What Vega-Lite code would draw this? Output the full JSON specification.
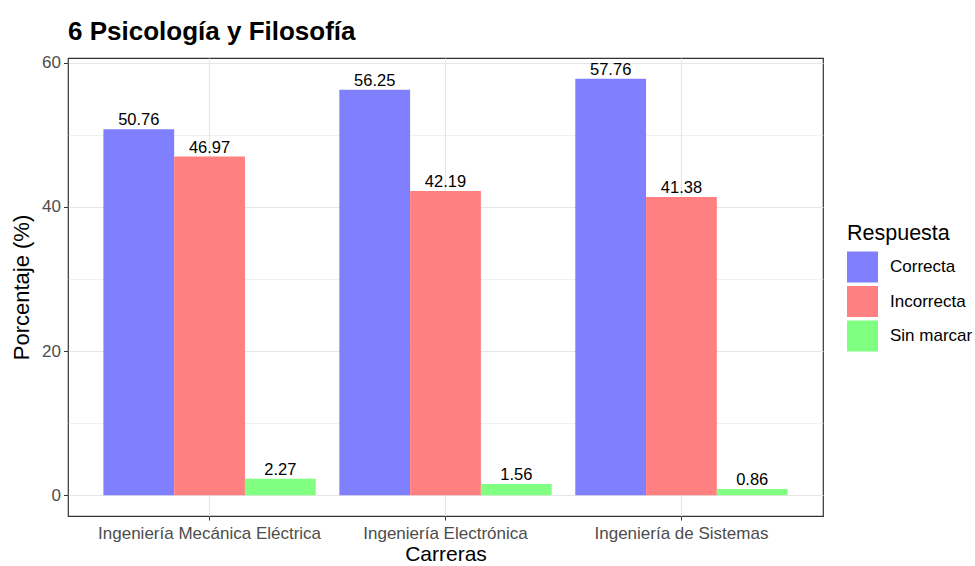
{
  "$schema": "https://vega.github.io/schema/vega-lite/v6.json",
  "width": 755,
  "height": 458,
  "autosize": {"type": "none"},
  "padding": {"left": 68, "top": 58, "right": 152, "bottom": 50},
  "config": {
    "font": "Liberation Sans",
    "view": {"stroke": "#333333", "strokeWidth": 1.2},
    "background": "white"
  },
  "title": {
    "text": "6 Psicología y Filosofía",
    "anchor": "start",
    "frame": "group",
    "fontSize": 26,
    "fontWeight": "bold",
    "color": "#000000",
    "offset": 9
  },
  "data": {
    "values": [
      {"carrera": "Ingeniería Mecánica Eléctrica", "respuesta": "Correcta", "pct": 50.76},
      {"carrera": "Ingeniería Mecánica Eléctrica", "respuesta": "Incorrecta", "pct": 46.97},
      {"carrera": "Ingeniería Mecánica Eléctrica", "respuesta": "Sin marcar", "pct": 2.27},
      {"carrera": "Ingeniería Electrónica", "respuesta": "Correcta", "pct": 56.25},
      {"carrera": "Ingeniería Electrónica", "respuesta": "Incorrecta", "pct": 42.19},
      {"carrera": "Ingeniería Electrónica", "respuesta": "Sin marcar", "pct": 1.56},
      {"carrera": "Ingeniería de Sistemas", "respuesta": "Correcta", "pct": 57.76},
      {"carrera": "Ingeniería de Sistemas", "respuesta": "Incorrecta", "pct": 41.38},
      {"carrera": "Ingeniería de Sistemas", "respuesta": "Sin marcar", "pct": 0.86}
    ]
  },
  "encoding": {
    "x": {
      "field": "carrera",
      "type": "nominal",
      "sort": ["Ingeniería Mecánica Eléctrica", "Ingeniería Electrónica", "Ingeniería de Sistemas"],
      "scale": {"paddingInner": 0.1, "paddingOuter": 0.15},
      "axis": {
        "title": "Carreras",
        "titleFontSize": 21,
        "titleFontWeight": "normal",
        "titleColor": "#000000",
        "titlePadding": 2,
        "labelAngle": 0,
        "labelFontSize": 17,
        "labelLimit": 0,
        "labelColor": "#4d4d4d",
        "labelPadding": 5,
        "grid": true,
        "gridColor": "#e6e6e6",
        "gridWidth": 1.1,
        "bandPosition": 0.5,
        "tickColor": "#333333",
        "tickSize": 4,
        "domain": false
      }
    },
    "xOffset": {"field": "respuesta", "type": "nominal", "scale": {"paddingInner": 0, "paddingOuter": 0}},
    "y": {
      "field": "pct",
      "type": "quantitative",
      "scale": {"domain": [-2.888, 60.648], "nice": false, "zero": false},
      "axis": {
        "title": "Porcentaje (%)",
        "titleFontSize": 22,
        "titleFontWeight": "normal",
        "titleColor": "#000000",
        "titlePadding": 8,
        "values": [0, 10, 20, 30, 40, 50, 60],
        "labelExpr": "datum.value % 20 === 0 ? datum.label : ''",
        "labelFontSize": 17,
        "labelColor": "#4d4d4d",
        "labelPadding": 3,
        "tickColor": "#333333",
        "tickSize": 4.5,
        "tickOpacity": {"condition": {"test": "datum.value % 20 !== 0", "value": 0}, "value": 1},
        "grid": true,
        "gridColor": "#e6e6e6",
        "gridWidth": {"condition": {"test": "datum.value % 20 !== 0", "value": 0.6}, "value": 1.1},
        "domain": false
      }
    }
  },
  "layer": [
    {
      "mark": {"type": "bar"},
      "encoding": {
        "y2": {"datum": 0},
        "color": {
          "field": "respuesta",
          "type": "nominal",
          "scale": {"domain": ["Correcta", "Incorrecta", "Sin marcar"], "range": ["#8080ff", "#ff8080", "#80ff80"]},
          "legend": {
            "title": "Respuesta",
            "titleFontSize": 21.5,
            "titleFontWeight": "normal",
            "titleColor": "#000000",
            "titlePadding": 7,
            "labelFontSize": 17,
            "labelColor": "#000000",
            "labelOffset": 12,
            "symbolType": "square",
            "symbolSize": 961,
            "symbolStrokeWidth": 0,
            "symbolOpacity": 1,
            "rowPadding": 3.5,
            "orient": "none",
            "legendX": 779,
            "legendY": 165
          }
        }
      }
    },
    {
      "mark": {"type": "text", "baseline": "bottom", "dy": -1, "fontSize": 16.5, "color": "#000000"},
      "encoding": {
        "text": {"field": "pct", "type": "quantitative", "format": ".2f"}
      }
    }
  ]
}
